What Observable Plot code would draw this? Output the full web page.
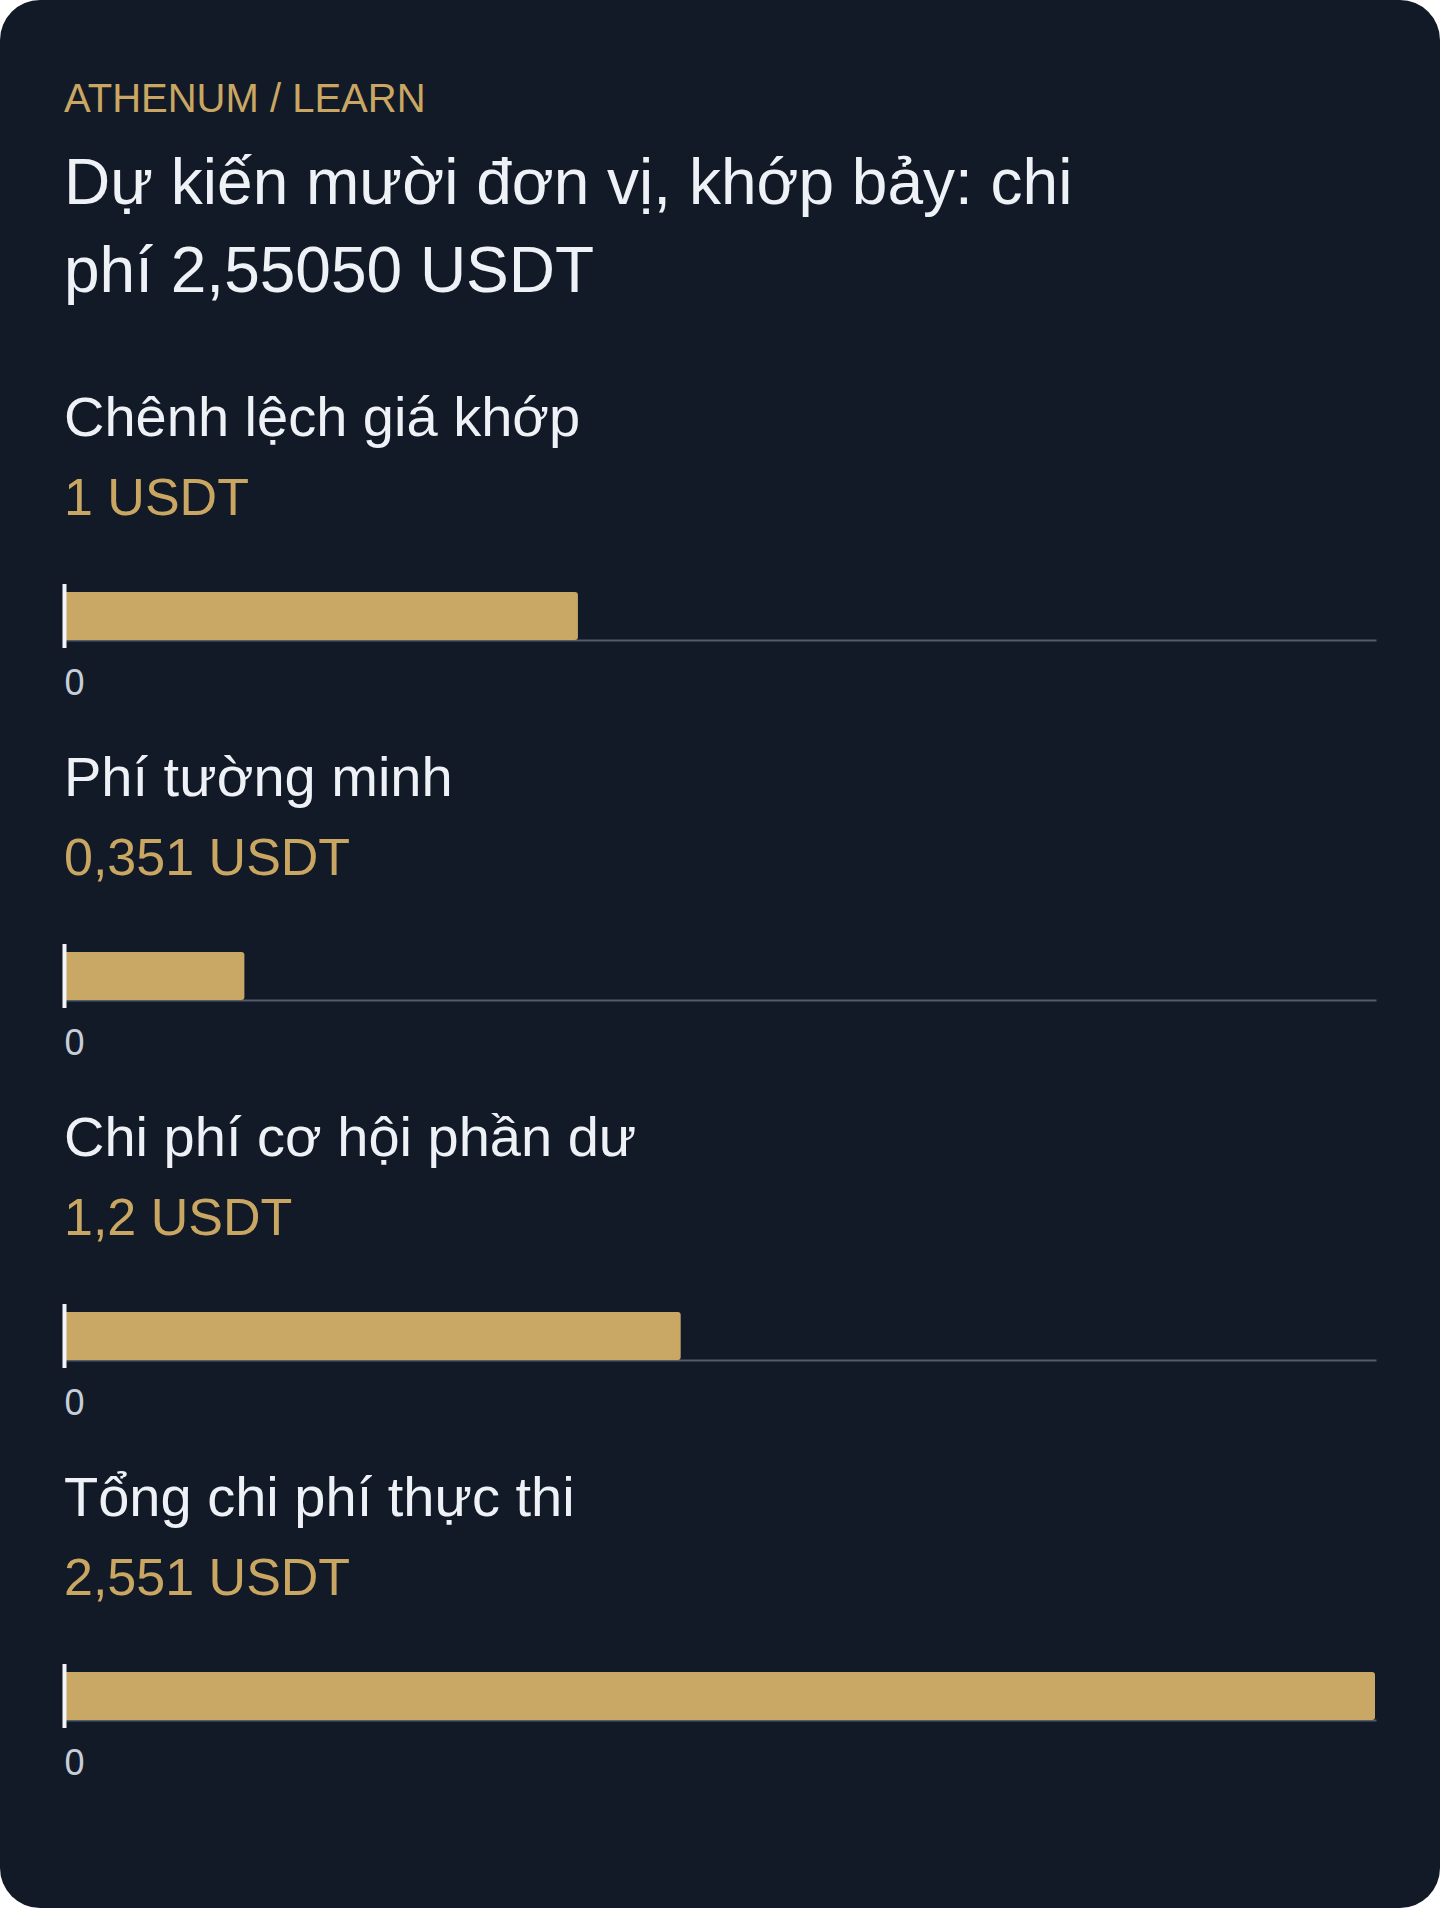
<!DOCTYPE html>
<html lang="vi">
<head>
<meta charset="utf-8">
<script src="https://cdn.jsdelivr.net/npm/d3@7"></script>
<script src="https://cdn.jsdelivr.net/npm/@observablehq/plot@0.6"></script>
<style>
  html, body { margin: 0; padding: 0; background: #ffffff; }
  .card {
    width: 1440px; height: 1908px; box-sizing: border-box;
    background: #131a27; border-radius: 40px;
    padding: 75px 64px 0 64px;
    font-family: "Liberation Sans", Arial, Helvetica, sans-serif;
  }
  .kicker { color: #c9a763; font-size: 40px; line-height: 46.8px; margin: 0; }
  .title { color: #eef1f6; font-size: 64px; line-height: 88px; margin: 16px 0 0 0; font-weight: 400; }
  .label { color: #eef1f6; font-size: 56px; line-height: 67.2px; margin: 0; }
  .value { color: #c9a763; font-size: 52px; line-height: 62.4px; margin: 15.6px 0 0 0; }
  .plotwrap { margin: 53.8px 0 0 -10px; width: 1331px; height: 118px; }
  .plotwrap svg { max-width: none !important; }
  .section { margin-top: 43px; }
  .section.first { margin-top: 69.2px; }
</style>
</head>
<body>
<div class="card" id="card">
  <div class="kicker">ATHENUM / LEARN</div>
  <div class="title">Dự kiến mười đơn vị, khớp bảy: chi<br>phí 2,55050 USDT</div>
  <div id="sections"></div>
</div>
<script>
const categories = ["Chênh lệch giá khớp", "Phí tường minh", "Chi phí cơ hội phần dư", "Tổng chi phí thực thi"];
const values = [1, 0.351, 1.2, 2.551];
const unit = "USDT";
const zeroTick = [0];

const fmt = new Intl.NumberFormat("vi-VN", {maximumFractionDigits: 3});
const maxValue = d3.max(values);
const container = document.getElementById("sections");

categories.forEach((cat, i) => {
  const sec = document.createElement("div");
  sec.className = "section" + (i === 0 ? " first" : "");
  const lab = document.createElement("div");
  lab.className = "label";
  lab.textContent = cat;
  const val = document.createElement("div");
  val.className = "value";
  val.textContent = fmt.format(values[i]) + " " + unit;
  const wrap = document.createElement("div");
  wrap.className = "plotwrap";
  sec.append(lab, val, wrap);
  container.append(sec);

  const row = [{category: cat, value: values[i]}];
  const chart = Plot.plot({
    width: 1331,
    height: 118,
    marginLeft: 10,
    marginRight: 10,
    marginTop: 10,
    marginBottom: 60,
    style: {background: "transparent", overflow: "visible", fontFamily: "'Liberation Sans', Arial, sans-serif"},
    x: {domain: [0, maxValue], axis: null, label: null},
    marks: [
      Plot.frame({anchor: "bottom", stroke: "#515b69", strokeWidth: 2}),
      Plot.barX(row, {x: "value", fill: "#c9a866", rx: 3}),
      Plot.ruleX(zeroTick, {stroke: "#f3f5f8", strokeWidth: 4, insetTop: -8, insetBottom: -8}),
      Plot.axisX(zeroTick, {
        tickSize: 0, tickPadding: 29, textAnchor: "start", label: null,
        fontSize: 36, fill: "#c7ced8", tickFormat: d => fmt.format(d)
      })
    ]
  });
  wrap.append(chart);
});
</script>
</body>
</html>
